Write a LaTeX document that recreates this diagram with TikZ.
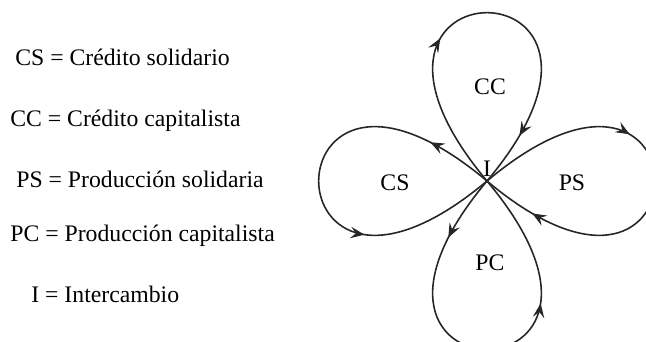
\documentclass[tikz,border=0pt]{standalone}
\usepackage{fontspec}
\setmainfont{Liberation Serif}
\usetikzlibrary{arrows.meta,decorations.markings}

\tikzset{
    loopline/.style={line width=0.9pt, black!85},
    flowmarks/.style 2 args={postaction={decorate}, decoration={markings,
        mark=at position #1 with {\arrow{Stealth[length=8pt,width=6.5pt,inset=3pt]}},
        mark=at position #2 with {\arrow{Stealth[length=8pt,width=6.5pt,inset=3pt]}}}},
    legend/.style={anchor=west, inner sep=0pt},
}

\begin{document}
\begin{tikzpicture}[font=\fontsize{13.5}{16}\selectfont]

    \useasboundingbox (0, 0) rectangle (12.92, 6.84);

    % Legend
    \node[legend] (legCS) at (0.30, 5.70) {CS = Crédito solidario};
    \node[legend] (legCC) at (0.20, 4.42) {CC = Crédito capitalista};
    \node[legend] (legPS) at (0.32, 3.26) {PS = Producción solidaria};
    \node[legend] (legPC) at (0.20, 2.12) {PC = Producción capitalista};
    \node[legend] (legI) at (0.62, 0.96) {I = Intercambio};

    % Exchange point
    \coordinate (I) at (9.74, 3.22);
    \node[above=-1pt] (lblI) at (I) {I};

    % Loop CC
    \draw[loopline, flowmarks={0.37}{0.87}] (I) .. controls +(130:5.86) and +(50:5.86) .. (I);
    \node (CC) at (9.80, 5.10) {CC};

    % Loop PS
    \draw[loopline, flowmarks={0.37}{0.87}] (I) .. controls +(40:5.86) and +(-40:5.86) .. (I);
    \node (PS) at (11.44, 3.18) {PS};

    % Loop PC
    \draw[loopline, flowmarks={0.16}{0.68}] (I) .. controls +(-130:5.86) and +(-50:5.86) .. (I);
    \node (PC) at (9.80, 1.58) {PC};

    % Loop CS
    \draw[loopline, flowmarks={0.16}{0.68}] (I) .. controls +(140:5.86) and +(220:5.86) .. (I);
    \node (CS) at (7.90, 3.18) {CS};

\end{tikzpicture}
\end{document}
